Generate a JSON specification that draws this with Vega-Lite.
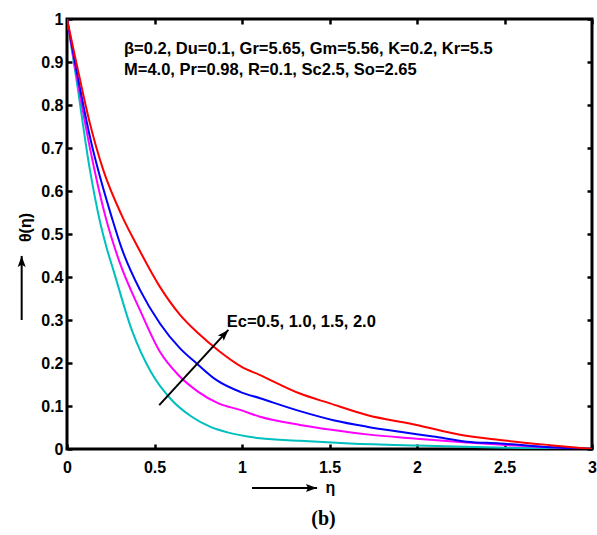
{
  "$schema": "https://vega.github.io/schema/vega-lite/v6.json",
  "width": 525,
  "height": 430,
  "autosize": {"type": "none"},
  "padding": {"left": 67, "top": 19, "right": 5, "bottom": 86},
  "background": "white",
  "config": {
    "view": {"stroke": "black", "strokeWidth": 3},
    "font": "Liberation Sans",
    "axis": {
      "domain": false,
      "grid": false,
      "ticks": true,
      "tickColor": "black",
      "tickWidth": 2.5,
      "tickSize": -5,
      "labelFont": "Liberation Sans",
      "labelFontSize": 16,
      "labelFontWeight": "bold",
      "labelColor": "black",
      "labelFlush": false,
      "labelOverlap": false,
      "labelBound": false,
      "titleFont": "Liberation Sans",
      "titleFontSize": 16,
      "titleFontWeight": "bold",
      "titleColor": "black"
    }
  },
  "title": {
    "text": "(b)",
    "orient": "bottom",
    "anchor": "middle",
    "font": "Liberation Serif",
    "fontSize": 20,
    "fontWeight": "bold",
    "color": "black",
    "offset": 14,
    "dx": -6
  },
  "datasets": {
    "curves": [
      {"Ec": "0.5", "eta": 0, "theta": 1},
      {"Ec": "0.5", "eta": 0.05, "theta": 0.87},
      {"Ec": "0.5", "eta": 0.131, "theta": 0.649},
      {"Ec": "0.5", "eta": 0.186, "theta": 0.533},
      {"Ec": "0.5", "eta": 0.227, "theta": 0.467},
      {"Ec": "0.5", "eta": 0.265, "theta": 0.416},
      {"Ec": "0.5", "eta": 0.37, "theta": 0.277},
      {"Ec": "0.5", "eta": 0.484, "theta": 0.176},
      {"Ec": "0.5", "eta": 0.598, "theta": 0.114},
      {"Ec": "0.5", "eta": 0.713, "theta": 0.075},
      {"Ec": "0.5", "eta": 0.817, "theta": 0.052},
      {"Ec": "0.5", "eta": 0.922, "theta": 0.038},
      {"Ec": "0.5", "eta": 1.103, "theta": 0.025},
      {"Ec": "0.5", "eta": 1.331, "theta": 0.019},
      {"Ec": "0.5", "eta": 1.617, "theta": 0.013},
      {"Ec": "0.5", "eta": 2.0, "theta": 0.008},
      {"Ec": "0.5", "eta": 2.5, "theta": 0.003},
      {"Ec": "0.5", "eta": 3.0, "theta": 0},
      {"Ec": "1.0", "eta": 0, "theta": 1},
      {"Ec": "1.0", "eta": 0.05, "theta": 0.88},
      {"Ec": "1.0", "eta": 0.131, "theta": 0.70},
      {"Ec": "1.0", "eta": 0.22, "theta": 0.54},
      {"Ec": "1.0", "eta": 0.30, "theta": 0.435},
      {"Ec": "1.0", "eta": 0.417, "theta": 0.323},
      {"Ec": "1.0", "eta": 0.531, "theta": 0.226},
      {"Ec": "1.0", "eta": 0.636, "theta": 0.172},
      {"Ec": "1.0", "eta": 0.75, "theta": 0.133},
      {"Ec": "1.0", "eta": 0.865, "theta": 0.106},
      {"Ec": "1.0", "eta": 0.989, "theta": 0.091},
      {"Ec": "1.0", "eta": 1.103, "theta": 0.075},
      {"Ec": "1.0", "eta": 1.331, "theta": 0.056},
      {"Ec": "1.0", "eta": 1.522, "theta": 0.044},
      {"Ec": "1.0", "eta": 1.713, "theta": 0.034},
      {"Ec": "1.0", "eta": 1.998, "theta": 0.024},
      {"Ec": "1.0", "eta": 2.284, "theta": 0.015},
      {"Ec": "1.0", "eta": 2.56, "theta": 0.008},
      {"Ec": "1.0", "eta": 3.0, "theta": 0},
      {"Ec": "1.5", "eta": 0, "theta": 1},
      {"Ec": "1.5", "eta": 0.05, "theta": 0.89},
      {"Ec": "1.5", "eta": 0.131, "theta": 0.726},
      {"Ec": "1.5", "eta": 0.26, "theta": 0.533},
      {"Ec": "1.5", "eta": 0.312, "theta": 0.467},
      {"Ec": "1.5", "eta": 0.417, "theta": 0.37},
      {"Ec": "1.5", "eta": 0.531, "theta": 0.292},
      {"Ec": "1.5", "eta": 0.646, "theta": 0.234},
      {"Ec": "1.5", "eta": 0.741, "theta": 0.199},
      {"Ec": "1.5", "eta": 0.855, "theta": 0.16},
      {"Ec": "1.5", "eta": 0.989, "theta": 0.133},
      {"Ec": "1.5", "eta": 1.103, "theta": 0.118},
      {"Ec": "1.5", "eta": 1.331, "theta": 0.088},
      {"Ec": "1.5", "eta": 1.522, "theta": 0.067},
      {"Ec": "1.5", "eta": 1.713, "theta": 0.052},
      {"Ec": "1.5", "eta": 1.903, "theta": 0.04},
      {"Ec": "1.5", "eta": 2.093, "theta": 0.029},
      {"Ec": "1.5", "eta": 2.284, "theta": 0.017},
      {"Ec": "1.5", "eta": 2.474, "theta": 0.013},
      {"Ec": "1.5", "eta": 2.76, "theta": 0.004},
      {"Ec": "1.5", "eta": 3.0, "theta": 0},
      {"Ec": "2.0", "eta": 0, "theta": 1},
      {"Ec": "2.0", "eta": 0.05, "theta": 0.905},
      {"Ec": "2.0", "eta": 0.131, "theta": 0.757},
      {"Ec": "2.0", "eta": 0.207, "theta": 0.649},
      {"Ec": "2.0", "eta": 0.312, "theta": 0.544},
      {"Ec": "2.0", "eta": 0.408, "theta": 0.467},
      {"Ec": "2.0", "eta": 0.531, "theta": 0.377},
      {"Ec": "2.0", "eta": 0.646, "theta": 0.312},
      {"Ec": "2.0", "eta": 0.75, "theta": 0.269},
      {"Ec": "2.0", "eta": 0.874, "theta": 0.226},
      {"Ec": "2.0", "eta": 0.998, "theta": 0.191},
      {"Ec": "2.0", "eta": 1.103, "theta": 0.172},
      {"Ec": "2.0", "eta": 1.331, "theta": 0.129},
      {"Ec": "2.0", "eta": 1.503, "theta": 0.106},
      {"Ec": "2.0", "eta": 1.713, "theta": 0.079},
      {"Ec": "2.0", "eta": 1.998, "theta": 0.056},
      {"Ec": "2.0", "eta": 2.246, "theta": 0.033},
      {"Ec": "2.0", "eta": 2.474, "theta": 0.021},
      {"Ec": "2.0", "eta": 2.76, "theta": 0.009},
      {"Ec": "2.0", "eta": 3.0, "theta": 0}
    ],
    "notes": [
      {"eta": 0.326, "theta": 0.93, "label": "β=0.2, Du=0.1, Gr=5.65, Gm=5.56, K=0.2, Kr=5.5"},
      {"eta": 0.326, "theta": 0.881, "label": "M=4.0, Pr=0.98, R=0.1, Sc2.5, So=2.65"},
      {"eta": 0.913, "theta": 0.296, "label": "Ec=0.5, 1.0, 1.5, 2.0"}
    ],
    "arrows": [
      {"eta": 0.527, "theta": 0.102, "eta2": 0.922, "theta2": 0.277, "dir": 42.6},
      {"eta": 1.057, "theta": -0.0907, "eta2": 1.429, "theta2": -0.0907, "dir": 90},
      {"eta": -0.259, "theta": 0.30, "eta2": -0.259, "theta2": 0.449, "dir": 0}
    ]
  },
  "layer": [
    {
      "data": {"name": "curves"},
      "mark": {"type": "line", "strokeWidth": 2, "interpolate": "monotone", "clip": true},
      "encoding": {
        "x": {
          "field": "eta", "type": "quantitative",
          "scale": {"domain": [0, 3], "nice": false, "zero": false},
          "axis": {
            "orient": "bottom",
            "values": [0, 0.5, 1, 1.5, 2, 2.5, 3],
            "format": "~g",
            "labelPadding": 15,
            "title": "η",
            "titleAnchor": "start",
            "titleAlign": "center",
            "titleX": 263,
            "titleY": 38,
            "titleBaseline": "middle"
          }
        },
        "y": {
          "field": "theta", "type": "quantitative",
          "scale": {"domain": [0, 1], "nice": false, "zero": false},
          "axis": {
            "orient": "left",
            "values": [0, 0.1, 0.2, 0.3, 0.4, 0.5, 0.6, 0.7, 0.8, 0.9, 1],
            "format": "~g",
            "labelPadding": 9,
            "title": "θ(η)",
            "titleAngle": 270,
            "titleAlign": "center",
            "titleAnchor": "start",
            "titleX": -42,
            "titleY": 208,
            "titleBaseline": "middle"
          }
        },
        "color": {
          "field": "Ec", "type": "nominal",
          "scale": {"domain": ["0.5", "1.0", "1.5", "2.0"], "range": ["#00bfbf", "#ff00ff", "#0000ff", "#ff0000"]},
          "legend": null
        }
      }
    },
    {
      "data": {"name": "notes"},
      "mark": {"type": "text", "align": "left", "baseline": "middle", "font": "Liberation Sans", "fontSize": 16.5, "fontWeight": "bold", "color": "black"},
      "encoding": {
        "x": {"field": "eta", "type": "quantitative", "axis": {"orient": "top", "values": [0, 0.5, 1, 1.5, 2, 2.5, 3], "labels": false, "title": null}},
        "y": {"field": "theta", "type": "quantitative", "axis": {"orient": "right", "values": [0, 0.1, 0.2, 0.3, 0.4, 0.5, 0.6, 0.7, 0.8, 0.9, 1], "labels": false, "title": null}},
        "text": {"field": "label"}
      }
    },
    {
      "data": {"name": "arrows"},
      "mark": {"type": "rule", "strokeWidth": 2, "color": "black", "clip": false},
      "encoding": {
        "x": {"field": "eta", "type": "quantitative", "axis": null},
        "y": {"field": "theta", "type": "quantitative", "axis": null},
        "x2": {"field": "eta2"},
        "y2": {"field": "theta2"}
      }
    },
    {
      "data": {"name": "arrows"},
      "mark": {"type": "point", "shape": "M0,0 L0.36,1 L0,0.8 L-0.36,1 Z", "filled": true, "size": 500, "color": "black", "opacity": 1, "strokeWidth": 0, "clip": false},
      "encoding": {
        "x": {"field": "eta2", "type": "quantitative", "axis": null},
        "y": {"field": "theta2", "type": "quantitative", "axis": null},
        "angle": {"field": "dir", "type": "quantitative", "scale": null}
      }
    }
  ],
  "resolve": {"axis": {"x": "independent", "y": "independent"}}
}
